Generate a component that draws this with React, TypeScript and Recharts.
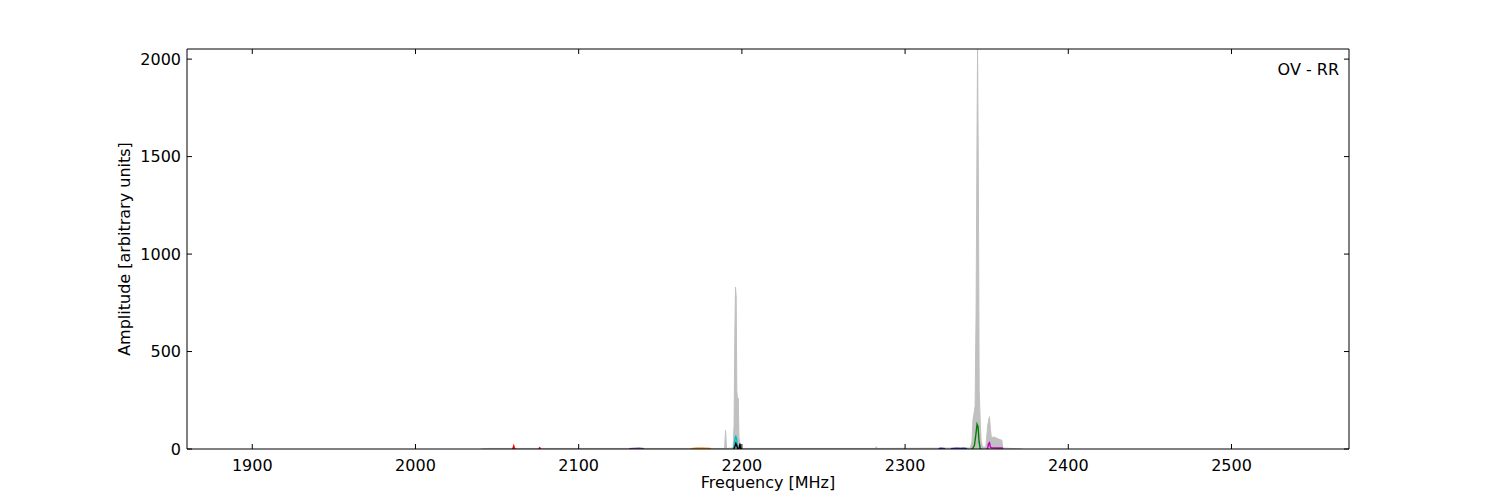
import React from "react";
import { ComposedChart, Area, Line, XAxis, YAxis } from "recharts";

// tick labels
const xTicks = [1900, 2000, 2100, 2200, 2300, 2400, 2500];
const yTicks = [0, 500, 1000, 1500, 2000];

// [frequency MHz, amplitude], null breaks the line
type Pt = [number, number | null];

// total spectrum (grey fill)
const greyTrace: Pt[] = [
  [2040, 0], [2045, 3], [2059.5, 3], [2060.2, 12], [2061, 3], [2075.5, 3],
  [2076.1, 6], [2076.8, 3], [2130, 3], [2140, 3], [2170, 3], [2180, 3],
  [2189.4, 3], [2190, 95], [2190.6, 3], [2194.6, 5], [2195.2, 120],
  [2195.7, 600], [2196.1, 830], [2196.5, 780], [2196.9, 300], [2197.3, 255],
  [2197.8, 260], [2198.2, 60], [2198.8, 30], [2199.4, 3], [2281.8, 3],
  [2282.4, 12], [2283, 3], [2340, 5], [2341, 40], [2341.6, 150],
  [2342.2, 180], [2342.9, 220], [2343.5, 700], [2344.0, 1500], [2344.4, 2050],
  [2344.9, 1400], [2345.4, 300], [2346, 150], [2346.6, 40], [2347.5, 10],
  [2349.5, 10], [2350.6, 120], [2351.7, 166], [2352.3, 100], [2352.9, 55],
  [2354, 62], [2355.5, 58], [2357.5, 50], [2359.3, 45], [2359.8, 5],
  [2365, 3], [2372, 0],
];

const redTrace: Pt[] = [
  [2059.2, 1], [2059.7, 2], [2060.2, 16], [2060.7, 2], [2061.3, 1], [2062, null],
  [2075.5, 1], [2076.1, 6], [2076.7, 1],
];
const purpleTrace: Pt[] = [
  [2131, 2], [2134, 3], [2137, 4], [2140, 2],
];
const orangeTrace: Pt[] = [
  [2169, 2], [2172, 4], [2176, 4], [2180, 3], [2181, 2],
];
const cyanTrace: Pt[] = [
  [2194.4, 1], [2194.9, 3], [2195.6, 40], [2196.2, 68], [2196.8, 50],
  [2197.4, 5], [2198, 1],
];
const blackTrace: Pt[] = [
  [2195.0, 1], [2195.7, 10], [2196.3, 28], [2196.9, 15], [2197.4, 3],
  [2198.2, 2], [2198.8, 28], [2199.2, 2], [2199.8, 1],
];
const blueTrace: Pt[] = [
  [2320.5, 1], [2321.5, 4], [2323.5, 3], [2324.5, 1], [2326, null],
  [2328, 1], [2329.5, 3], [2332, 4], [2334, 3], [2336, 4], [2338, 1],
];
const greenTrace: Pt[] = [
  [2340.8, 1], [2341.5, 3], [2342.5, 20], [2343.3, 70], [2344.1, 127],
  [2344.7, 115], [2345.3, 40], [2346, 3], [2346.6, 1],
];
const magentaTrace: Pt[] = [
  [2350, 1], [2350.6, 3], [2351.1, 25], [2351.7, 32], [2352.3, 10],
  [2353, 6], [2356, 5], [2359.5, 5], [2360, 1],
];

const toRows = (trace: Pt[]) => trace.map(([f, a]) => ({ f, a }));

const FONT = "'DejaVu Sans', sans-serif";

const traces = [
  { name: "red", data: redTrace, color: "#ff0000" },
  { name: "purple", data: purpleTrace, color: "#7f3f9f" },
  { name: "orange", data: orangeTrace, color: "#d98000" },
  { name: "cyan", data: cyanTrace, color: "#00bfbf" },
  { name: "black", data: blackTrace, color: "#000000" },
  { name: "blue", data: blueTrace, color: "#3030c0" },
  { name: "green", data: greenTrace, color: "#008000" },
  { name: "magenta", data: magentaTrace, color: "#bf00bf" },
];

// ticks point inward like matplotlib classic
const BottomTick = ({ x, y, payload }: any) => (
  <g>
    <line x1={x} x2={x} y1={y} y2={y - 5} stroke="#000" />
    <text x={x} y={y + 22} textAnchor="middle" fontSize={16} fontFamily={FONT} fill="#000">
      {payload.value}
    </text>
  </g>
);

const TopTick = ({ x, y }: any) => (
  <line x1={x} x2={x} y1={y} y2={y + 5} stroke="#000" />
);

const LeftTick = ({ x, y, payload }: any) => (
  <g>
    <line x1={x} x2={x + 5} y1={y} y2={y} stroke="#000" />
    <text x={x - 6} y={y} dy="0.35em" textAnchor="end" fontSize={16} fontFamily={FONT} fill="#000">
      {payload.value}
    </text>
  </g>
);

const RightTick = ({ x, y }: any) => (
  <line x1={x} x2={x - 5} y1={y} y2={y} stroke="#000" />
);

export default function App() {
  const textStyle: React.CSSProperties = {
    position: "absolute",
    fontFamily: FONT,
    fontSize: 16,
    color: "#000",
    whiteSpace: "nowrap",
    lineHeight: 1,
  };

  return (
    <div style={{ position: "absolute", left: 0, top: 0, width: 1500, height: 500, background: "#fff" }}>
      <ComposedChart
        width={1500}
        height={500}
        margin={{ top: 39, right: 141, bottom: 21, left: 127 }}
      >
        <XAxis
          dataKey="f"
          type="number"
          domain={[1860, 2572]}
          allowDataOverflow
          ticks={xTicks}
          interval={0}
          height={30}
          tickSize={0}
          tickMargin={0}
          tick={BottomTick}
          tickLine={false}
          axisLine={{ stroke: "#000" }}
        />
        <XAxis
          xAxisId="top"
          orientation="top"
          dataKey="f"
          type="number"
          domain={[1860, 2572]}
          allowDataOverflow
          ticks={xTicks}
          interval={0}
          height={10}
          tickSize={0}
          tickMargin={0}
          tick={TopTick}
          tickLine={false}
          axisLine={{ stroke: "#000" }}
        />
        <YAxis
          type="number"
          domain={[0, 2052]}
          allowDataOverflow
          ticks={yTicks}
          interval={0}
          width={60}
          tickSize={0}
          tickMargin={0}
          tick={LeftTick}
          tickLine={false}
          axisLine={{ stroke: "#000" }}
        />
        <YAxis
          yAxisId="right"
          orientation="right"
          type="number"
          domain={[0, 2052]}
          allowDataOverflow
          ticks={yTicks}
          interval={0}
          width={10}
          tickSize={0}
          tickMargin={0}
          tick={RightTick}
          tickLine={false}
          axisLine={{ stroke: "#000" }}
        />

        <Area
          data={toRows(greyTrace)}
          dataKey="a"
          type="linear"
          baseValue={0}
          stroke="#c0c0c0"
          strokeWidth={1}
          fill="#c0c0c0"
          fillOpacity={1}
          dot={false}
          activeDot={false}
          isAnimationActive={false}
        />

        {traces.map((t) => (
          <Line
            key={t.name}
            data={toRows(t.data)}
            dataKey="a"
            type="linear"
            stroke={t.color}
            strokeWidth={1.4}
            dot={false}
            activeDot={false}
            connectNulls={false}
            isAnimationActive={false}
          />
        ))}
      </ComposedChart>

      <div style={{ ...textStyle, right: 161, top: 62 }}>OV - RR</div>
      <div style={{ ...textStyle, left: 768, top: 483, transform: "translate(-50%, -50%)" }}>
        Frequency [MHz]
      </div>
      <div
        style={{
          ...textStyle,
          left: 125,
          top: 249,
          transform: "translate(-50%, -50%) rotate(-90deg)",
        }}
      >
        Amplitude [arbitrary units]
      </div>
    </div>
  );
}
